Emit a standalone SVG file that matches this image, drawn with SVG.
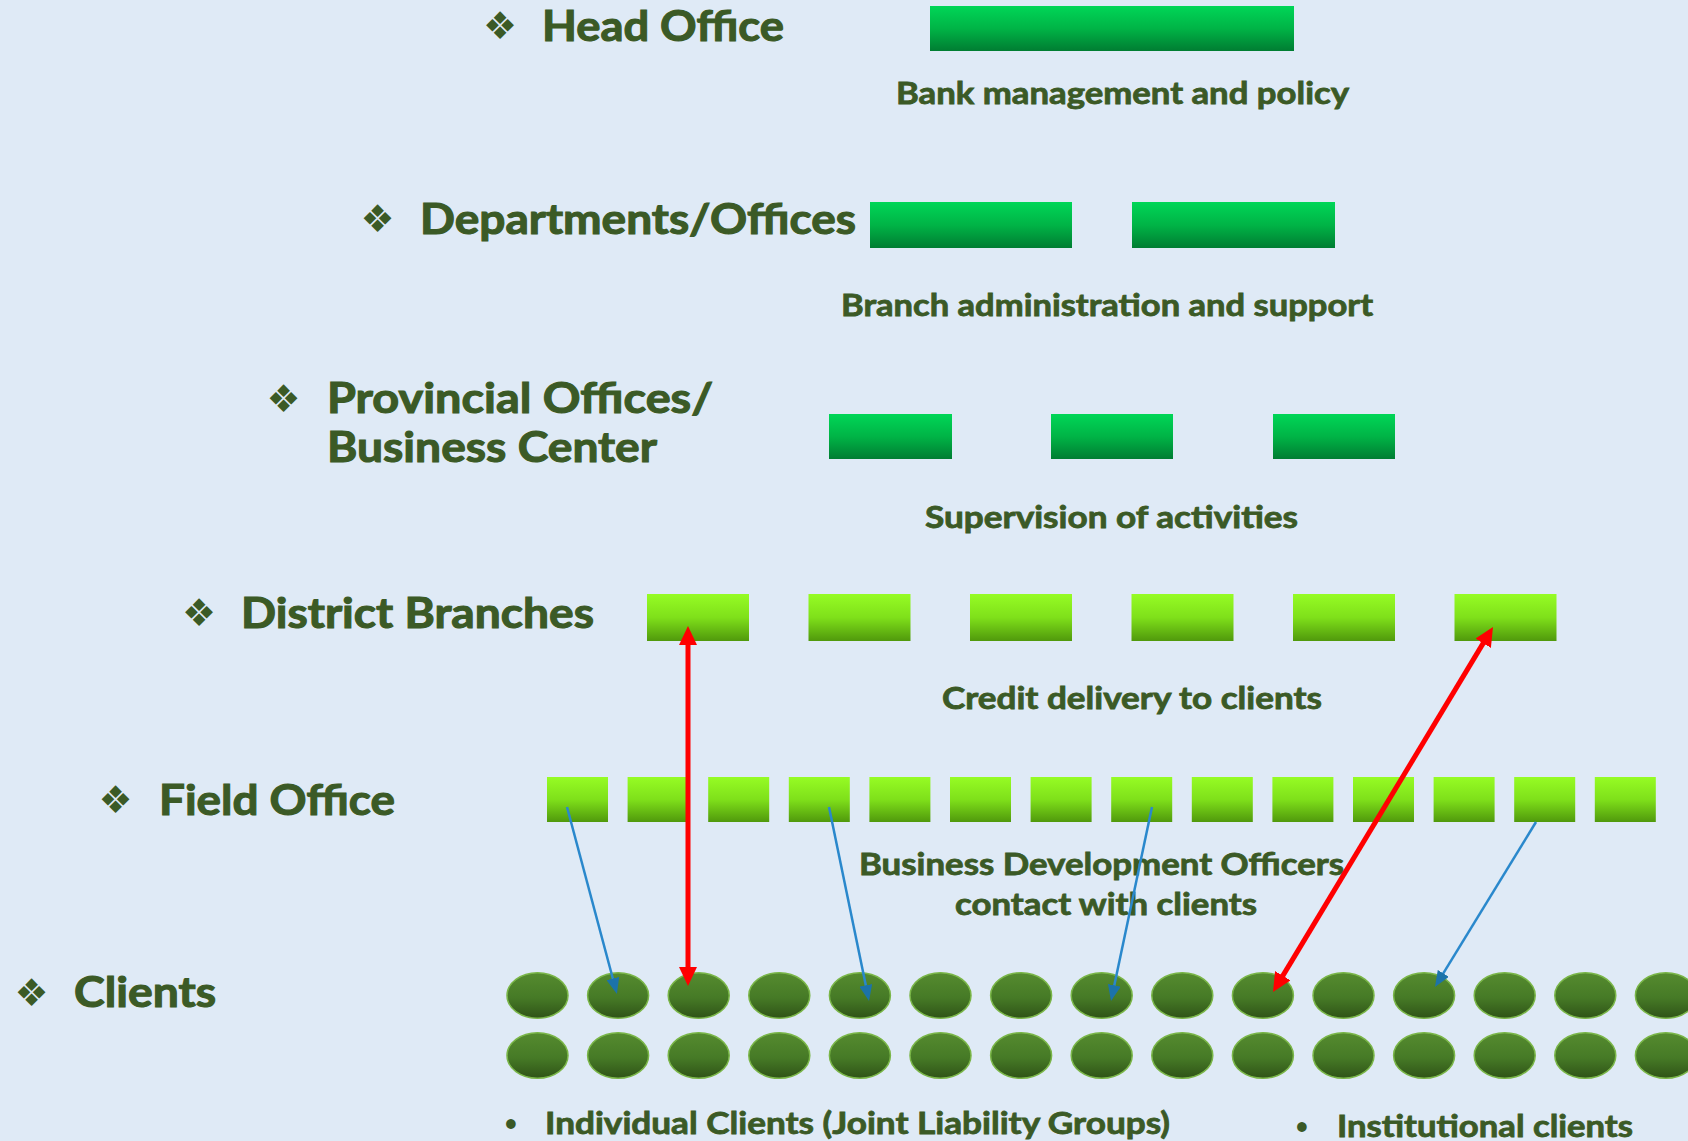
<svg xmlns="http://www.w3.org/2000/svg" width="1688" height="1141" viewBox="0 0 1688 1141">
  <defs>
    <linearGradient id="gDark" x1="0" y1="0" x2="0" y2="1">
      <stop offset="0" stop-color="#00d657"/>
      <stop offset="0.5" stop-color="#00b446"/>
      <stop offset="1" stop-color="#007d32"/>
    </linearGradient>
    <linearGradient id="gLime" x1="0" y1="0" x2="0" y2="1">
      <stop offset="0" stop-color="#96fc24"/>
      <stop offset="0.5" stop-color="#7fe01a"/>
      <stop offset="1" stop-color="#50990c"/>
    </linearGradient>
    <linearGradient id="gClient" x1="0" y1="0" x2="0" y2="1">
      <stop offset="0" stop-color="#558b2f"/>
      <stop offset="0.55" stop-color="#467a26"/>
      <stop offset="1" stop-color="#2f5317"/>
    </linearGradient>
    <marker id="redHead" markerUnits="userSpaceOnUse" markerWidth="19" markerHeight="18" refX="1" refY="9" orient="auto-start-reverse">
      <path d="M0,0 L19,9 L0,18 z" fill="#ff0000"/>
    </marker>
    <marker id="blueHead" markerUnits="userSpaceOnUse" markerWidth="16" markerHeight="13" refX="1" refY="6.5" orient="auto-start-reverse">
      <path d="M0,0 L16,6.5 L0,13 z" fill="#1c73a9"/>
    </marker>
  </defs>
  <style>
    .lvl { font-family: Lato, "Liberation Sans", sans-serif; font-weight: 700; font-size: 42px; fill: #3b5a26; stroke: #3b5a26; stroke-width: 1.1; }
    .note { font-family: Lato, "Liberation Sans", sans-serif; font-weight: 700; font-size: 30px; fill: #3b5a26; stroke: #3b5a26; stroke-width: 0.8; }
    .dot { font-family: Lato, "Liberation Sans", sans-serif; font-weight: 700; font-size: 22px; fill: #3b5a26; }
    .mark { font-family: "DejaVu Sans", sans-serif; font-size: 38px; fill: #3b5a26; }
    .dark { fill: url(#gDark); }
    .lime { fill: url(#gLime); }
    .client { fill: url(#gClient); stroke: #7ab648; stroke-width: 1.5; }
    .red { stroke: #ff0000; stroke-width: 5; fill: none; marker-start: url(#redHead); marker-end: url(#redHead); }
    .blue { stroke: #2a88cc; stroke-width: 2.5; fill: none; marker-end: url(#blueHead); }
  </style>

  <rect width="1688" height="1141" fill="#dfeaf6"/>

  <!-- level labels -->
  <g id="label-head-office">
    <text class="mark" x="500" y="39" text-anchor="middle">❖</text>
    <text class="lvl" x="542" y="41" textLength="242" lengthAdjust="spacingAndGlyphs">Head Office</text>
  </g>
  <g id="label-departments">
    <text class="mark" x="377.5" y="231.5" text-anchor="middle">❖</text>
    <text class="lvl" x="420" y="234" textLength="436" lengthAdjust="spacingAndGlyphs">Departments/Offices</text>
  </g>
  <g id="label-provincial">
    <text class="mark" x="283.5" y="411.5" text-anchor="middle">❖</text>
    <text class="lvl" x="327" y="413" textLength="386" lengthAdjust="spacingAndGlyphs">Provincial Offices/</text>
    <text class="lvl" x="327" y="462" textLength="330" lengthAdjust="spacingAndGlyphs">Business Center</text>
  </g>
  <g id="label-district">
    <text class="mark" x="199" y="626" text-anchor="middle">❖</text>
    <text class="lvl" x="241" y="628" textLength="353" lengthAdjust="spacingAndGlyphs">District Branches</text>
  </g>
  <g id="label-field">
    <text class="mark" x="115.5" y="813" text-anchor="middle">❖</text>
    <text class="lvl" x="159" y="815" textLength="236" lengthAdjust="spacingAndGlyphs">Field Office</text>
  </g>
  <g id="label-clients">
    <text class="mark" x="31.5" y="1005.5" text-anchor="middle">❖</text>
    <text class="lvl" x="74" y="1007" textLength="142" lengthAdjust="spacingAndGlyphs">Clients</text>
  </g>

  <!-- head office -->
  <g id="head-office">
    <rect class="dark" x="930" y="6" width="364" height="45"/>
    <text class="note" x="896" y="104" textLength="453" lengthAdjust="spacingAndGlyphs">Bank management and policy</text>
  </g>

  <!-- departments / offices -->
  <g id="departments">
    <rect class="dark" x="870" y="202" width="202" height="46"/>
    <rect class="dark" x="1132" y="202" width="203" height="46"/>
    <text class="note" x="841" y="316" textLength="532" lengthAdjust="spacingAndGlyphs">Branch administration and support</text>
  </g>

  <!-- provincial offices -->
  <g id="provincial-offices">
    <rect class="dark" x="829" y="414" width="123" height="45"/>
    <rect class="dark" x="1051" y="414" width="122" height="45"/>
    <rect class="dark" x="1273" y="414" width="122" height="45"/>
    <text class="note" x="925" y="528" textLength="373" lengthAdjust="spacingAndGlyphs">Supervision of activities</text>
  </g>

  <!-- district branches -->
  <g id="district-branches">
    <rect class="lime" x="647" y="594" width="102" height="47"/>
    <rect class="lime" x="808.5" y="594" width="102" height="47"/>
    <rect class="lime" x="970" y="594" width="102" height="47"/>
    <rect class="lime" x="1131.5" y="594" width="102" height="47"/>
    <rect class="lime" x="1293" y="594" width="102" height="47"/>
    <rect class="lime" x="1454.5" y="594" width="102" height="47"/>
    <text class="note" x="942" y="709" textLength="380" lengthAdjust="spacingAndGlyphs">Credit delivery to clients</text>
  </g>

  <!-- field offices -->
  <g id="field-offices">
    <rect class="lime" x="547" y="777" width="61" height="45"/>
    <rect class="lime" x="627.6" y="777" width="61" height="45"/>
    <rect class="lime" x="708.2" y="777" width="61" height="45"/>
    <rect class="lime" x="788.8" y="777" width="61" height="45"/>
    <rect class="lime" x="869.4" y="777" width="61" height="45"/>
    <rect class="lime" x="950" y="777" width="61" height="45"/>
    <rect class="lime" x="1030.6" y="777" width="61" height="45"/>
    <rect class="lime" x="1111.2" y="777" width="61" height="45"/>
    <rect class="lime" x="1191.8" y="777" width="61" height="45"/>
    <rect class="lime" x="1272.4" y="777" width="61" height="45"/>
    <rect class="lime" x="1353" y="777" width="61" height="45"/>
    <rect class="lime" x="1433.6" y="777" width="61" height="45"/>
    <rect class="lime" x="1514.2" y="777" width="61" height="45"/>
    <rect class="lime" x="1594.8" y="777" width="61" height="45"/>
    <text class="note" x="859" y="875" textLength="485" lengthAdjust="spacingAndGlyphs">Business Development Officers</text>
    <text class="note" x="955" y="915" textLength="302" lengthAdjust="spacingAndGlyphs">contact with clients</text>
  </g>

  <!-- clients -->
  <g id="clients">
    <g id="clients-row-1">
      <ellipse class="client" cx="537.5" cy="995.5" rx="30.5" ry="22.8"/>
      <ellipse class="client" cx="618.1" cy="995.5" rx="30.5" ry="22.8"/>
      <ellipse class="client" cx="698.7" cy="995.5" rx="30.5" ry="22.8"/>
      <ellipse class="client" cx="779.3" cy="995.5" rx="30.5" ry="22.8"/>
      <ellipse class="client" cx="859.9" cy="995.5" rx="30.5" ry="22.8"/>
      <ellipse class="client" cx="940.5" cy="995.5" rx="30.5" ry="22.8"/>
      <ellipse class="client" cx="1021.1" cy="995.5" rx="30.5" ry="22.8"/>
      <ellipse class="client" cx="1101.7" cy="995.5" rx="30.5" ry="22.8"/>
      <ellipse class="client" cx="1182.3" cy="995.5" rx="30.5" ry="22.8"/>
      <ellipse class="client" cx="1262.9" cy="995.5" rx="30.5" ry="22.8"/>
      <ellipse class="client" cx="1343.5" cy="995.5" rx="30.5" ry="22.8"/>
      <ellipse class="client" cx="1424.1" cy="995.5" rx="30.5" ry="22.8"/>
      <ellipse class="client" cx="1504.7" cy="995.5" rx="30.5" ry="22.8"/>
      <ellipse class="client" cx="1585.3" cy="995.5" rx="30.5" ry="22.8"/>
      <ellipse class="client" cx="1665.9" cy="995.5" rx="30.5" ry="22.8"/>
    </g>
    <g id="clients-row-2">
      <ellipse class="client" cx="537.5" cy="1055.5" rx="30.5" ry="22.8"/>
      <ellipse class="client" cx="618.1" cy="1055.5" rx="30.5" ry="22.8"/>
      <ellipse class="client" cx="698.7" cy="1055.5" rx="30.5" ry="22.8"/>
      <ellipse class="client" cx="779.3" cy="1055.5" rx="30.5" ry="22.8"/>
      <ellipse class="client" cx="859.9" cy="1055.5" rx="30.5" ry="22.8"/>
      <ellipse class="client" cx="940.5" cy="1055.5" rx="30.5" ry="22.8"/>
      <ellipse class="client" cx="1021.1" cy="1055.5" rx="30.5" ry="22.8"/>
      <ellipse class="client" cx="1101.7" cy="1055.5" rx="30.5" ry="22.8"/>
      <ellipse class="client" cx="1182.3" cy="1055.5" rx="30.5" ry="22.8"/>
      <ellipse class="client" cx="1262.9" cy="1055.5" rx="30.5" ry="22.8"/>
      <ellipse class="client" cx="1343.5" cy="1055.5" rx="30.5" ry="22.8"/>
      <ellipse class="client" cx="1424.1" cy="1055.5" rx="30.5" ry="22.8"/>
      <ellipse class="client" cx="1504.7" cy="1055.5" rx="30.5" ry="22.8"/>
      <ellipse class="client" cx="1585.3" cy="1055.5" rx="30.5" ry="22.8"/>
      <ellipse class="client" cx="1665.9" cy="1055.5" rx="30.5" ry="22.8"/>
    </g>
    <text class="dot" x="511" y="1131" text-anchor="middle">•</text>
    <text class="note" x="545" y="1134" textLength="625" lengthAdjust="spacingAndGlyphs">Individual Clients (Joint Liability Groups)</text>
    <text class="dot" x="1302" y="1134" text-anchor="middle">•</text>
    <text class="note" x="1337" y="1137" textLength="296" lengthAdjust="spacingAndGlyphs">Institutional clients</text>
  </g>

  <!-- connectors -->
  <g id="connectors">
    <path class="blue" d="M567,807 L613.1,979.5"/>
    <path class="blue" d="M829,807 L866,986.3"/>
    <path class="blue" d="M1152,807 L1114.1,986.3"/>
    <path class="blue" d="M1536,822 L1442.8,974.2"/>
    <path class="red" d="M688,644 L688,968"/>
    <path class="red" d="M1282.3,976.6 L1483.7,642.4"/>
  </g>
</svg>
